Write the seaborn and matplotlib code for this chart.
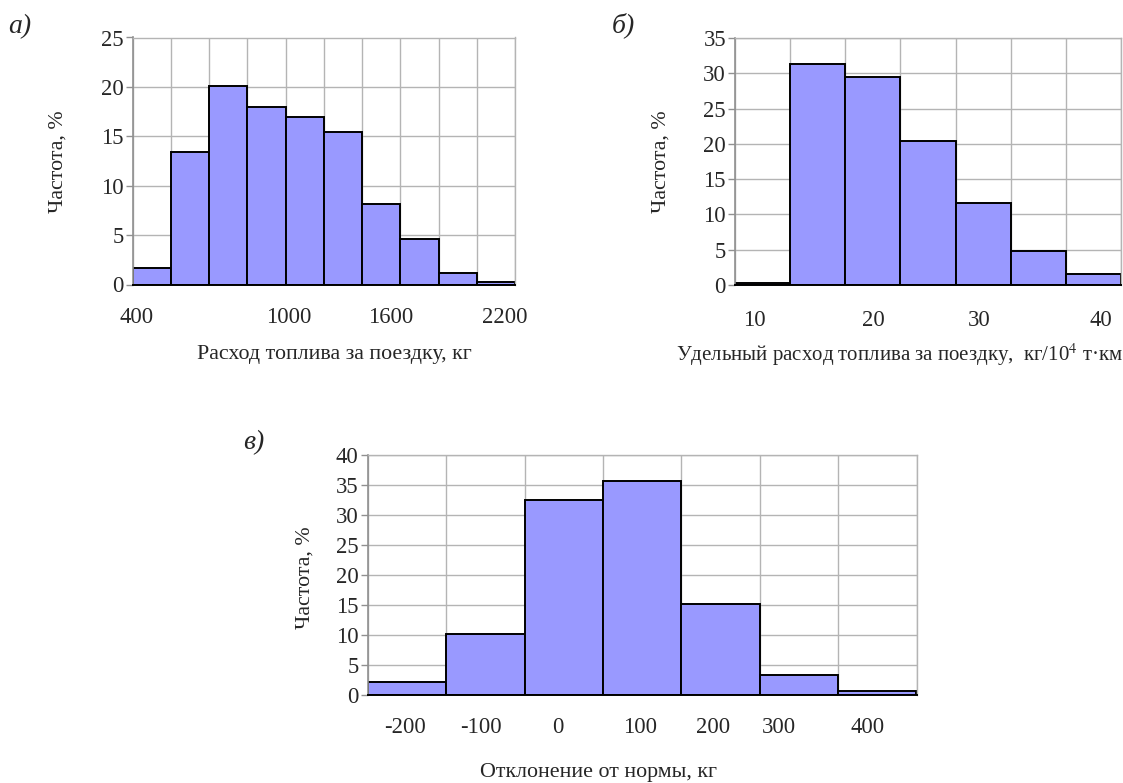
import numpy as np
import pandas as pd
import matplotlib
matplotlib.use("Agg")
import matplotlib.pyplot as plt
import seaborn as sns

# а) fuel per trip, kg
fuel_bins = [400, 600, 800, 1000, 1200, 1400, 1600, 1800, 2000, 2200]
fuel_freq = [1.7, 13.4, 20.1, 18.0, 17.0, 15.4, 8.1, 4.6, 1.2, 0.3]
fuel_labels = ["400", "1000", "1600", "2200"]

# б) specific fuel per trip, kg/10^4 t*km
spec_bins = [10, 15, 20, 25, 30, 35, 40]
spec_freq = [0.3, 31.3, 29.5, 20.4, 11.6, 4.8, 1.5]
spec_labels = ["10", "20", "30", "40"]

# в) deviation from norm, kg
dev_bins = [-200, -100, 0, 100, 200, 300, 400]
dev_freq = [2.1, 10.1, 32.5, 35.6, 15.1, 3.3, 0.66]
dev_labels = ["-200", "-100", "0", "100", "200", "300", "400"]

sns.set_style("white")
plt.rcParams["font.family"] = ["Liberation Serif", "DejaVu Serif"]
plt.rcParams["mathtext.fontset"] = "stix"

W, H = 1123, 783
fig = plt.figure(figsize=(W / 100, H / 100), dpi=100)

FILL = "#9999FF"
GRID = "#b4b4b4"


def add_ax(left, top, right, bottom):
    return fig.add_axes([left / W, 1 - bottom / H, (right - left) / W, (bottom - top) / H])


def draw(ax, bins, freq, ymax, label_pos, labels, xlabel, xlab_xy, ylab_xy, pad, xl_size=15.8):
    df = pd.DataFrame({"bin": bins, "freq": freq})
    sns.barplot(data=df, x="bin", y="freq", ax=ax, color=FILL, edgecolor="black",
                linewidth=1.4, width=1, saturation=1, errorbar=None)
    n = len(bins)
    ax.set_xlim(-0.5, n - 0.5)
    ax.set_ylim(0, ymax)
    ax.set_yticks(np.arange(0, ymax + 1, 5))
    # vertical grid lines / small ticks at every bin edge
    ax.set_xticks(np.arange(n + 1) - 0.5, minor=True)
    ax.set_xticks(np.array(label_pos) - 0.5)
    ax.set_xticklabels(labels)
    ax.tick_params(axis="x", which="major", length=0, pad=pad, labelsize=16.3)
    ax.tick_params(axis="x", which="minor", length=5, width=1, color=GRID, direction="out")
    ax.tick_params(axis="y", length=5, width=1, color="#909090", pad=1.5, labelsize=16.3, left=True)
    ax.grid(True, which="minor", axis="x", color=GRID, linewidth=1)
    ax.grid(True, which="major", axis="y", color=GRID, linewidth=1)
    ax.grid(False, which="major", axis="x")
    ax.set_axisbelow(True)
    for s in ["top", "right"]:
        ax.spines[s].set_color(GRID)
        ax.spines[s].set_linewidth(1)
    ax.spines["left"].set_color("#909090")
    ax.spines["left"].set_linewidth(1.2)
    ax.spines["bottom"].set_color("black")
    ax.spines["bottom"].set_linewidth(1.4)
    ax.set_xlabel(xlabel, fontsize=xl_size, va="center")
    ax.set_ylabel("Частота, %", fontsize=15.8, va="center")
    ax.xaxis.set_label_coords(*xlab_xy)
    ax.yaxis.set_label_coords(*ylab_xy)


ax1 = add_ax(132.5, 37.5, 515, 284.5)
draw(ax1, fuel_bins, fuel_freq, 25, [0.11, 4.08, 6.75, 9.73], fuel_labels,
     "Расход топлива за поездку, кг", (0.529, -0.285), (-0.195, 0.496), 16)

ax2 = add_ax(735, 38, 1121, 285)
draw(ax2, spec_bins, spec_freq, 35, [0.36, 2.51, 4.42, 6.64], spec_labels,
     "Удельный расход топлива за поездку,  кг/10$^{4}$ т·км", (0.427, -0.283), (-0.192, 0.498), 18,
     xl_size=15)

ax3 = add_ax(367.7, 455, 916.5, 695)
draw(ax3, dev_bins, dev_freq, 40, [0.48, 1.45, 2.43, 3.48, 4.41, 5.25, 6.38], dev_labels,
     "Отклонение от нормы, кг", (0.421, -0.325), (-0.114, 0.49), 15.5)

for txt, x, y in [("а)", 20, 27), ("б)", 623, 25), ("в)", 254, 443)]:
    fig.text(x / W, 1 - y / H, txt, fontsize=20, style="italic", ha="center", va="center")

fig.savefig("out.png", dpi=100)
